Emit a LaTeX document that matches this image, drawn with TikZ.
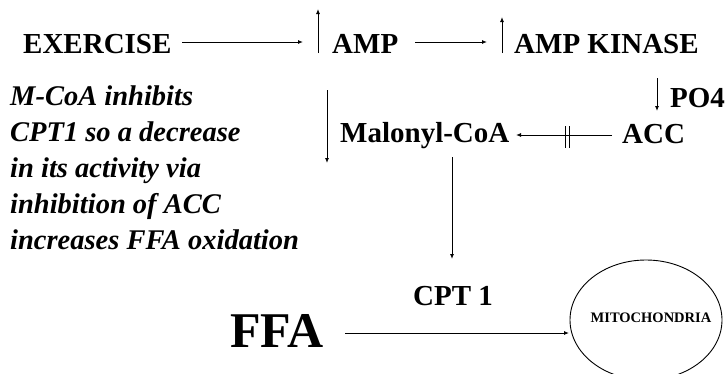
\documentclass[tikz,border=0pt]{standalone}
\usepackage{fontspec}
\setmainfont{Liberation Serif}
\usetikzlibrary{arrows.meta,shapes.geometric}
\begin{document}
\begin{tikzpicture}[x=1pt,y=-1pt,
  lbl/.style={font=\fontsize{29}{32}\selectfont\bfseries,inner sep=0pt,anchor=base west},
  note/.style={font=\fontsize{28.5}{32}\selectfont\bfseries\itshape,inner sep=0pt,anchor=base west},
  conn/.style={line width=0.9pt,-{Latex[length=5pt,width=4pt]}},
  bar/.style={line width=0.9pt}]
\useasboundingbox (0,0) rectangle (726,373);
% labels
\node[lbl] (ex) at (23,53) {EXERCISE};
\node[lbl] (amp) at (332,53) {AMP};
\node[lbl] (ampk) at (514,53) {AMP KINASE};
\node[lbl] (po4) at (670,107) {PO4};
\node[lbl] (acc) at (622,143) {ACC};
\node[lbl] (mcoa) at (340,142) {Malonyl-CoA};
\node[lbl] (cpt) at (413,305) {CPT 1};
\node[font=\fontsize{50}{54}\selectfont\bfseries,inner sep=0pt,anchor=base west] (ffa) at (230,347) {FFA};
\node[draw,ellipse,line width=0.9pt,minimum width=152pt,minimum height=120pt,inner sep=0pt] (mito) at (646,320) {};
\node[font=\fontsize{14.5}{16}\selectfont\bfseries,inner sep=0pt] (mitot) at (651,318) {MITOCHONDRIA};
% note
\node[note] (n1) at (10,105) {M-CoA inhibits};
\node[note] (n2) at (10,141) {CPT1 so a decrease};
\node[note] (n3) at (10,177) {in its activity via};
\node[note] (n4) at (10,213) {inhibition of ACC};
\node[note] (n5) at (10,249) {increases FFA oxidation};
% connector ends
\coordinate (a1s) at (182,42); \coordinate (a1e) at (303,42);
\coordinate (u1s) at (318,53); \coordinate (u1e) at (318,9);
\coordinate (a2s) at (415,42); \coordinate (a2e) at (487,42);
\coordinate (u2s) at (502,53); \coordinate (u2e) at (502,17);
\coordinate (d1s) at (657,78); \coordinate (d1e) at (657,111);
\coordinate (is) at (612,135); \coordinate (ie) at (516,135);
\coordinate (b1t) at (565,126); \coordinate (b1b) at (565,148);
\coordinate (b2t) at (569,126); \coordinate (b2b) at (569,148);
\coordinate (d2s) at (327,90); \coordinate (d2e) at (327,163);
\coordinate (vs) at (452,157); \coordinate (ve) at (452,259);
\coordinate (fs) at (345,333); \coordinate (fe) at (569,333);
% connectors
\draw[conn] (a1s) -- (a1e);
\draw[conn] (u1s) -- (u1e);
\draw[conn] (a2s) -- (a2e);
\draw[conn] (u2s) -- (u2e);
\draw[conn] (d1s) -- (d1e);
\draw[conn] (is) -- (ie);
\draw[bar] (b1t) -- (b1b);
\draw[bar] (b2t) -- (b2b);
\draw[conn] (d2s) -- (d2e);
\draw[conn] (vs) -- (ve);
\draw[conn] (fs) -- (fe);
\end{tikzpicture}
\end{document}
